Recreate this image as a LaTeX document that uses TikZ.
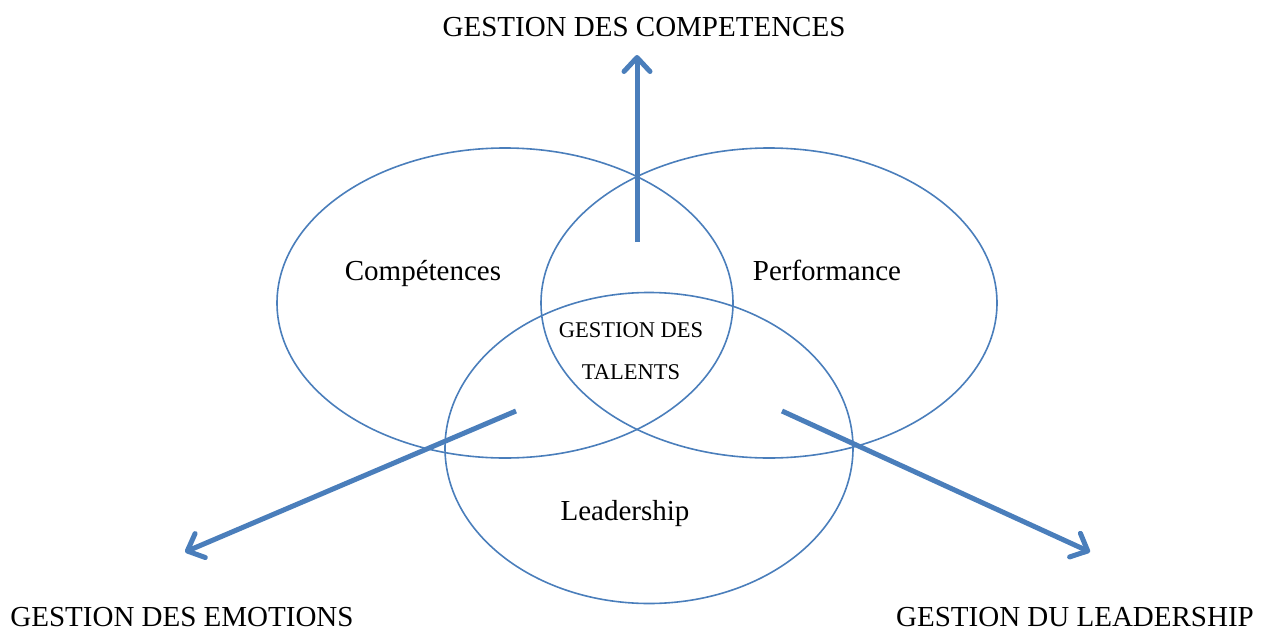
\documentclass[tikz,border=0pt]{standalone}
\usepackage{fontspec}
\setmainfont{Liberation Serif}
\usetikzlibrary{arrows.meta,shapes.geometric}
\definecolor{vennblue}{RGB}{74,126,187}
\tikzset{
  venn/.style={draw=vennblue, line width=1.6pt, ellipse, inner sep=0pt},
  bigarrow/.style={draw=vennblue, line width=5pt,
    -{Straight Barb[length=14pt,width=26pt,line width=5pt,round]}},
  lbl/.style={anchor=base, inner sep=0pt, font=\fontsize{29}{34}\selectfont},
  small/.style={anchor=base, inner sep=0pt, align=center,
    font=\fontsize{22.5}{42}\selectfont},
}
\begin{document}
\begin{tikzpicture}[x=1pt,y=-1pt]
  \useasboundingbox (0,0) rectangle (1267,632);
  % three overlapping sets
  \node[venn, minimum width=456pt, minimum height=310pt] (comp) at (505,303) {};
  \node[venn, minimum width=456pt, minimum height=310pt] (perf) at (769,303) {};
  \node[venn, minimum width=408pt, minimum height=311pt] (lead) at (649,448) {};
  % set labels
  \node[lbl] (tcomp) at (423,280) {Compétences};
  \node[lbl] (tperf) at (827,280) {Performance};
  \node[lbl] (tlead) at (625,520) {Leadership};
  \node[small] (talent) at (631,379) {GESTION DES\\TALENTS};
  % outcome labels
  \node[lbl] (gcomp) at (644,36) {GESTION DES COMPETENCES};
  \node[lbl] (gemo) at (182,626) {GESTION DES EMOTIONS};
  \node[lbl] (glead) at (1075,626) {GESTION DU LEADERSHIP};
  % arrow end points
  \coordinate (upS) at (637,242);
  \coordinate (upE) at (637,55);
  \coordinate (lS) at (516,411);
  \coordinate (lE) at (185,552);
  \coordinate (rS) at (782,411);
  \coordinate (rE) at (1090,552);
  \draw[bigarrow] (upS) -- (upE);
  \draw[bigarrow] (lS) -- (lE);
  \draw[bigarrow] (rS) -- (rE);
\end{tikzpicture}
\end{document}
